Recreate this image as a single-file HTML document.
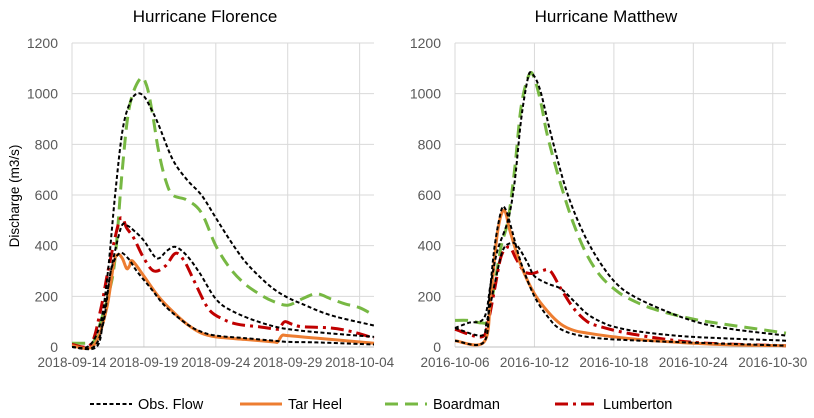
<!DOCTYPE html>
<html><head><meta charset="utf-8"><style>
html,body{margin:0;padding:0;background:#fff;width:814px;height:418px;overflow:hidden}
svg{display:block;font-family:"Liberation Sans",sans-serif}
</style></head><body>
<svg id="chart" width="814" height="418"></svg>
<script>
// ---- Data (days since first tick, discharge m3/s) ----
const yTicks=[0,200,400,600,800,1000,1200];
const florenceXLabels=["2018-09-14","2018-09-19","2018-09-24","2018-09-29","2018-10-04"];
const matthewXLabels=["2016-10-06","2016-10-12","2016-10-18","2016-10-24","2016-10-30"];
const fObsBoardmanX=[0,1.2,2,2.5,3,3.5,4,4.5,5,5.5,6,7,8,9,10,11,12,13,14,15,16,18,21];
const fObsBoardmanY=[0,5,100,300,600,850,960,1000,990,940,880,740,660,600,510,420,340,280,230,195,170,125,85];
const fBoardmanX=[0,1,1.5,2.5,3,3.5,4,4.75,5.2,5.6,6,6.5,7,8,9,10,11,12,13,14,15,16,17,18,19,20,21];
const fBoardmanY=[15,15,20,200,350,700,950,1060,1030,920,780,660,600,580,530,400,310,250,210,180,165,190,210,190,170,155,125];
const fObsLumbertonX=[0,1.7,2.2,2.7,3.4,3.8,4.3,5,5.9,6.6,7.2,8,8.9,10,11.2,13.5,15.8,21];
const fObsLumbertonY=[0,0,120,300,470,480,460,420,350,380,395,360,290,190,140,90,65,40];
const fLumbertonX=[0,1.3,2,2.5,3.2,3.5,3.8,4.3,5,5.7,6.5,7.2,7.8,8.5,9.5,10.5,11.5,13,14.3,14.5,14.8,15.3,16,18,19.5,21];
const fLumbertonY=[10,10,150,300,480,510,470,430,350,300,320,370,340,260,150,110,90,80,70,80,100,90,80,75,60,35];
const fObsTarHeelX=[0,1.5,2.2,2.7,3.3,3.9,4.5,5.5,6.5,8,9,10,12,14,15,17,21];
const fObsTarHeelY=[0,0,100,300,370,350,300,230,160,90,60,45,35,25,20,18,10];
const fTarHeelX=[0,1.5,2.4,2.9,3.2,3.5,3.8,4,4.2,5,6,7,8,9,10,12,14,14.3,14.6,15,17,21];
const fTarHeelY=[5,5,150,330,365,350,310,320,340,280,200,140,90,55,40,30,20,20,45,45,35,15];

const mObsBoardmanX=[0,1,2.2,2.7,3.2,4,4.5,5,5.5,5.8,6.4,7.2,8.4,9.7,11,12.2,13.5,16,18.5,21,25];
const mObsBoardmanY=[75,95,115,250,380,500,650,900,1060,1080,1020,850,620,450,330,250,200,140,95,70,45];
const mBoardmanX=[0,1,2,2.5,3,3.5,4,4.5,5,5.6,6,6.5,7,8,9,10,11,12,13,15,18,21,25];
const mBoardmanY=[105,105,95,110,250,400,500,700,950,1075,1060,960,830,640,480,360,280,230,195,150,110,85,55];
const mObsLumbertonX=[0,2,2.4,3,3.6,4.2,4.7,5.5,6,7,8,9,10,11,12,14,18,25];
const mObsLumbertonY=[75,45,100,250,380,410,400,330,280,250,230,180,130,100,80,60,40,25];
const mLumbertonX=[0,2,2.5,3,3.5,4.1,4.6,5.2,5.8,6.5,7.2,8,9,10,11,13,16,19,25];
const mLumbertonY=[70,40,100,230,360,395,350,300,290,300,300,230,150,100,80,55,30,15,5];
const mObsTarHeelX=[0,2.2,2.6,3,3.5,3.8,4.2,5,6,7,8,10,14,25];
const mObsTarHeelY=[25,20,200,400,540,545,480,330,200,120,70,40,25,5];
const mTarHeelX=[0,2.2,2.7,3.2,3.7,4.2,5,6,7,8,9,10,12,15,20,25];
const mTarHeelY=[25,20,200,450,540,450,320,210,140,90,65,55,40,25,10,5];

const NS="http://www.w3.org/2000/svg";
const svg=document.getElementById('chart');
function mk(tag,attrs,parent){const e=document.createElementNS(NS,tag);for(const k in attrs)e.setAttribute(k,attrs[k]);(parent||svg).appendChild(e);return e;}
const Y0=347,Y1=43;
const yScale=v=>Y0-(v/1200)*(Y0-Y1);
function smooth(pts){let d="M"+pts[0][0].toFixed(1)+","+pts[0][1].toFixed(1);
 for(let i=0;i<pts.length-1;i++){const p0=pts[i-1]||pts[i],p1=pts[i],p2=pts[i+1],p3=pts[i+2]||p2;
  const c1=[p1[0]+(p2[0]-p0[0])/6,p1[1]+(p2[1]-p0[1])/6],c2=[p2[0]-(p3[0]-p1[0])/6,p2[1]-(p3[1]-p1[1])/6];
  d+=" C"+c1.map(v=>v.toFixed(1))+" "+c2.map(v=>v.toFixed(1))+" "+p2[0].toFixed(1)+","+p2[1].toFixed(1);}
 return d;}
const styles={obs:{stroke:"#000","stroke-width":2,"stroke-dasharray":"4,2.5"},
 tar:{stroke:"#ED7D31","stroke-width":3},
 board:{stroke:"#77B843","stroke-width":3,"stroke-dasharray":"13,7"},
 lumb:{stroke:"#C00000","stroke-width":3,"stroke-dasharray":"13,5,3,5"}};
function panel(id,title,titleX,x0,x1,tickDays,labels,maxDay,series,showY){
 const g=mk('g',{});
 
 
 const xs=d=>x0+d/maxDay*(x1-x0);
 yTicks.forEach(v=>{const l=mk('line',{x1:x0,x2:x1,y1:yScale(v),y2:yScale(v),stroke:"#d9d9d9","stroke-width":1},g);
  
  const t=mk('text',{x:x0-14,y:yScale(v)+5,"text-anchor":"end","font-size":14,fill:"#595959"},g);t.textContent=v;
  });
 tickDays.forEach((d,i)=>{const l=mk('line',{x1:xs(d),x2:xs(d),y1:Y1,y2:Y0,stroke:"#d9d9d9","stroke-width":1},g);
  
  const t=mk('text',{x:xs(d),y:367,"text-anchor":"middle","font-size":13.5,fill:"#595959"},g);t.textContent=labels[i];
  });
 const ax=mk('line',{x1:x0,x2:x1,y1:Y0,y2:Y0,stroke:"#bfbfbf"},g);
 
 series.forEach(s=>{const pts=s.x.map((d,i)=>[xs(d),yScale(s.y[i])]);
  const p=mk('path',Object.assign({d:smooth(pts),fill:"none"},styles[s.st]),g);
  });
 const t=mk('text',{x:titleX,y:22,"text-anchor":"middle","font-size":17,fill:"#000"},g);t.textContent=title;
 
}
panel('florence-panel','Hurricane Florence',205,72,374,[0,5,10,15,20],florenceXLabels,21,[
 {x:fBoardmanX,y:fBoardmanY,st:'board',name:'boardman-sim-line'},
 {x:fLumbertonX,y:fLumbertonY,st:'lumb',name:'lumberton-sim-line'},
 {x:fTarHeelX,y:fTarHeelY,st:'tar',name:'tarheel-sim-line'},
 {x:fObsBoardmanX,y:fObsBoardmanY,st:'obs',name:'obs-boardman-line'},
 {x:fObsLumbertonX,y:fObsLumbertonY,st:'obs',name:'obs-lumberton-line'},
 {x:fObsTarHeelX,y:fObsTarHeelY,st:'obs',name:'obs-tarheel-line'}]);
panel('matthew-panel','Hurricane Matthew',606,455,786,[0,6,12,18,24],matthewXLabels,25,[
 {x:mBoardmanX,y:mBoardmanY,st:'board',name:'boardman-sim-line'},
 {x:mLumbertonX,y:mLumbertonY,st:'lumb',name:'lumberton-sim-line'},
 {x:mTarHeelX,y:mTarHeelY,st:'tar',name:'tarheel-sim-line'},
 {x:mObsBoardmanX,y:mObsBoardmanY,st:'obs',name:'obs-boardman-line'},
 {x:mObsLumbertonX,y:mObsLumbertonY,st:'obs',name:'obs-lumberton-line'},
 {x:mObsTarHeelX,y:mObsTarHeelY,st:'obs',name:'obs-tarheel-line'}]);
const yl=mk('text',{x:0,y:0,transform:"translate(19,196) rotate(-90)","text-anchor":"middle","font-size":13.5,fill:"#000"});
yl.textContent="Discharge (m3/s)";


const legend=[["Obs. Flow","obs",90],["Tar Heel","tar",240],["Boardman","board",385],["Lumberton","lumb",555]];
legend.forEach(e=>{const g=mk('g',{});
 
 
 mk('line',Object.assign({x1:e[2],x2:e[2]+42,y1:404,y2:404},styles[e[1]]),g);
 const t=mk('text',{x:e[2]+48,y:409,"font-size":14.5,fill:"#000"},g);t.textContent=e[0];});
</script>
</body></html>
